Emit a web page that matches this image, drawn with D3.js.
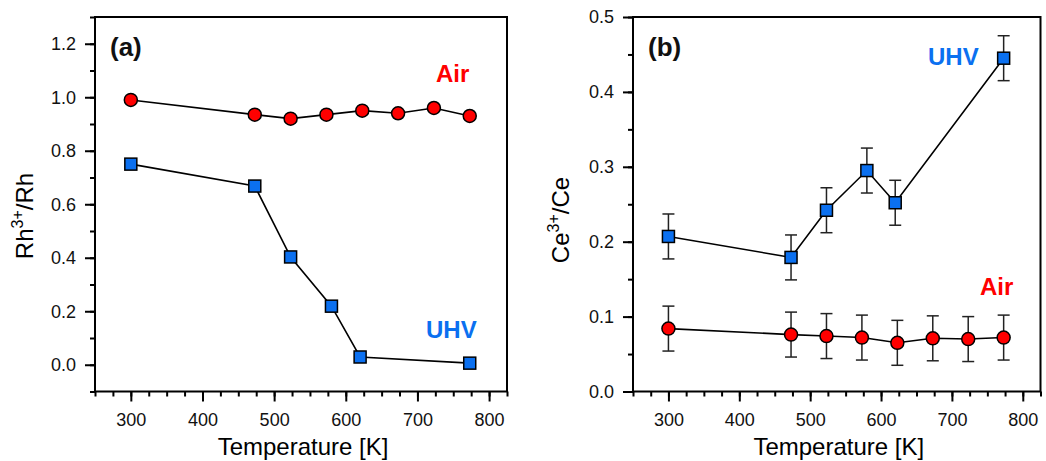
<!DOCTYPE html>
<html>
<head>
<meta charset="utf-8">
<script src="https://cdn.jsdelivr.net/npm/d3@7"></script>
<style>
  body { margin: 0; background: #fff; }
  svg { display: block; font-family: "Liberation Sans", Arial, sans-serif; }
</style>
</head>
<body>
<div id="chart"></div>
<script>
const width = 1046;
const height = 461;

// panel (a): Rh3+/Rh
const tempAirA = [300, 473, 523, 573, 623, 673, 723, 773];
const rhAir = [0.99, 0.935, 0.92, 0.935, 0.95, 0.94, 0.96, 0.93];
const tempUhvA = [300, 473, 523, 580, 620, 773];
const rhUhv = [0.75, 0.668, 0.403, 0.219, 0.029, 0.006];

// panel (b): Ce3+/Ce
const tempUhvB = [300, 473, 523, 580, 620, 773];
const ceUhv = [0.207, 0.179, 0.242, 0.295, 0.252, 0.445];
const ceUhvErr = [0.03, 0.03, 0.03, 0.03, 0.03, 0.03];
const tempAirB = [300, 473, 523, 573, 623, 673, 723, 773];
const ceAir = [0.084, 0.076, 0.074, 0.072, 0.065, 0.071, 0.070, 0.072];
const ceAirErr = [0.03, 0.03, 0.03, 0.03, 0.03, 0.03, 0.03, 0.03];

const xTicks = [300, 400, 500, 600, 700, 800];
const xMinor = d3.range(250, 826, 25);
const yTicksA = [0, 0.2, 0.4, 0.6, 0.8, 1.0, 1.2];
const yMinorA = d3.range(-0.1, 1.31, 0.1);
const yTicksB = [0, 0.1, 0.2, 0.3, 0.4, 0.5];
const yMinorB = d3.range(0, 0.51, 0.05);

const red = "#ff0000";
const blue = "#0b70f0";

const svg = d3.select("#chart").append("svg")
    .attr("width", width)
    .attr("height", height);

function zip(xs, ys, es) {
    return xs.map((x, i) => ({x: x, y: ys[i], e: es ? es[i] : 0}));
}

function panel(opt) {
    const x = d3.scaleLinear().domain([250, 825]).range([opt.left, opt.right]);
    const y = d3.scaleLinear().domain(opt.yDomain).range([opt.bottom, opt.top]);
    const g = svg.append("g");

    // frame
    g.append("rect")
        .attr("x", opt.left).attr("y", opt.top)
        .attr("width", opt.right - opt.left)
        .attr("height", opt.bottom - opt.top)
        .attr("fill", "none").attr("stroke", "#000").attr("stroke-width", 2);

    // minor ticks
    g.append("g")
        .attr("transform", `translate(0,${opt.bottom})`)
        .call(d3.axisBottom(x).tickValues(xMinor).tickSize(5).tickFormat(""))
        .call(a => a.select(".domain").remove());
    g.append("g")
        .attr("transform", `translate(${opt.left},0)`)
        .call(d3.axisLeft(y).tickValues(opt.yMinor).tickSize(5).tickFormat(""))
        .call(a => a.select(".domain").remove());

    // major ticks
    const xa = g.append("g")
        .attr("transform", `translate(0,${opt.bottom})`)
        .call(d3.axisBottom(x).tickValues(xTicks).tickSize(10).tickPadding(12).tickFormat(d3.format("d")));
    xa.select(".domain").remove();
    const ya = g.append("g")
        .attr("transform", `translate(${opt.left},0)`)
        .call(d3.axisLeft(y).tickValues(opt.yTicks).tickSize(10).tickPadding(9).tickFormat(d3.format(".1f")));
    ya.select(".domain").remove();

    g.selectAll(".tick line").attr("stroke", "#000").attr("stroke-width", 2);
    g.selectAll(".tick text").attr("font-size", 18).attr("fill", "#111")
        .attr("font-family", "'Liberation Sans', Arial, sans-serif");

    // axis titles
    g.append("text")
        .attr("x", (opt.left + opt.right) / 2 + 2)
        .attr("y", 455)
        .attr("text-anchor", "middle")
        .attr("font-size", 24)
        .text("Temperature [K]");

    const yl = g.append("text")
        .attr("transform", `translate(${opt.yLabelX},${opt.yLabelY}) rotate(-90)`)
        .attr("text-anchor", "middle")
        .attr("font-size", 24);
    yl.append("tspan").text(opt.yLabel[0]);
    yl.append("tspan").attr("dy", -10).attr("font-size", 16).text("3+");
    yl.append("tspan").attr("dy", 10).text(opt.yLabel[1]);

    const line = d3.line().x(d => x(d.x)).y(d => y(d.y));

    opt.series.forEach(s => {
        const pts = zip(s.xs, s.ys, s.errs);
        if (s.errs) {
            const eb = g.append("g").attr("stroke", "#222").attr("stroke-width", 1.5);
            eb.selectAll(".ev").data(pts).join("line")
                .attr("x1", d => x(d.x)).attr("x2", d => x(d.x))
                .attr("y1", d => y(d.y - d.e)).attr("y2", d => y(d.y + d.e));
            eb.selectAll(".et").data(pts).join("line")
                .attr("x1", d => x(d.x) - 6).attr("x2", d => x(d.x) + 6)
                .attr("y1", d => y(d.y + d.e)).attr("y2", d => y(d.y + d.e));
            eb.selectAll(".eb").data(pts).join("line")
                .attr("x1", d => x(d.x) - 6).attr("x2", d => x(d.x) + 6)
                .attr("y1", d => y(d.y - d.e)).attr("y2", d => y(d.y - d.e));
        }
        g.append("path")
            .datum(pts)
            .attr("fill", "none")
            .attr("stroke", "#000")
            .attr("stroke-width", 1.6)
            .attr("d", line);
        if (s.shape === "circle") {
            g.selectAll(null).data(pts).join("circle")
                .attr("cx", d => x(d.x)).attr("cy", d => y(d.y))
                .attr("r", 6.5)
                .attr("fill", s.color).attr("stroke", "#000").attr("stroke-width", 1.5);
        } else {
            g.selectAll(null).data(pts).join("rect")
                .attr("x", d => x(d.x) - 6).attr("y", d => y(d.y) - 6)
                .attr("width", 12).attr("height", 12)
                .attr("fill", s.color).attr("stroke", "#000").attr("stroke-width", 1.5);
        }
    });

    // annotations
    opt.notes.forEach(n => {
        g.append("text")
            .attr("x", n.x).attr("y", n.y)
            .attr("font-size", n.size)
            .attr("font-weight", "bold")
            .attr("fill", n.color)
            .text(n.text);
    });
}

panel({
    left: 95, right: 507, top: 17, bottom: 391.5,
    yDomain: [-0.1, 1.3], yTicks: yTicksA, yMinor: yMinorA,
    yLabel: ["Rh", "/Rh"], yLabelX: 33, yLabelY: 216,
    series: [
        {xs: tempAirA, ys: rhAir, shape: "circle", color: red},
        {xs: tempUhvA, ys: rhUhv, shape: "square", color: blue}
    ],
    notes: [
        {text: "(a)", x: 110, y: 56, size: 26, color: "#111"},
        {text: "Air", x: 436, y: 82, size: 24, color: red},
        {text: "UHV", x: 426, y: 338, size: 24, color: blue}
    ]
});

panel({
    left: 633, right: 1040.5, top: 17, bottom: 391.5,
    yDomain: [0, 0.5], yTicks: yTicksB, yMinor: yMinorB,
    yLabel: ["Ce", "/Ce"], yLabelX: 569, yLabelY: 220,
    series: [
        {xs: tempUhvB, ys: ceUhv, errs: ceUhvErr, shape: "square", color: blue},
        {xs: tempAirB, ys: ceAir, errs: ceAirErr, shape: "circle", color: red}
    ],
    notes: [
        {text: "(b)", x: 648, y: 56, size: 26, color: "#111"},
        {text: "UHV", x: 928, y: 65, size: 24, color: blue},
        {text: "Air", x: 980, y: 295, size: 24, color: red}
    ]
});
</script>
</body>
</html>
